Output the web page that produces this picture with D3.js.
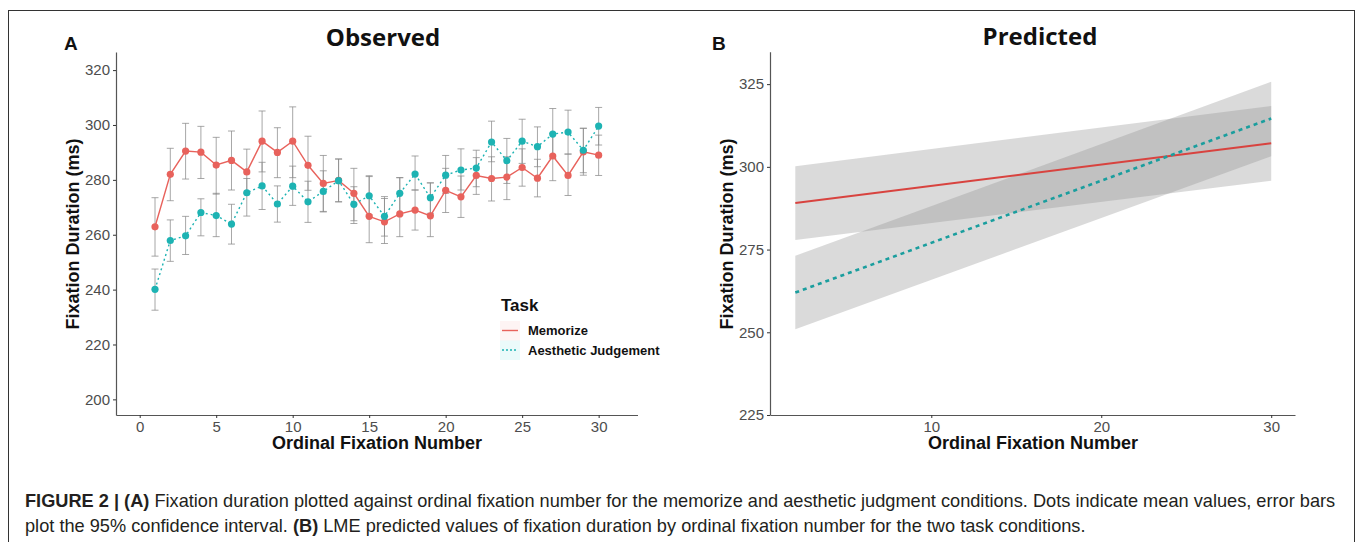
<!DOCTYPE html>
<html>
<head>
<meta charset="utf-8">
<script src="https://cdn.jsdelivr.net/npm/d3@7/dist/d3.min.js"></script>
<style>
  html, body { margin: 0; padding: 0; background: #fff; }
  svg { display: block; }
</style>
</head>
<body>
<svg id="chart" width="1357" height="542"></svg>
<script>
// ---------- Data ----------
const fixationNumber = [1,2,3,4,5,6,7,8,9,10,11,12,13,14,15,16,17,18,19,20,21,22,23,24,25,26,27,28,29,30];

const memorizeMean = [262.9,282.0,290.5,290.1,285.4,287.1,282.9,294.1,290.0,294.1,285.3,278.7,279.8,275.1,266.7,264.7,267.6,269.0,266.9,276.2,273.8,281.6,280.5,281.0,284.5,280.6,288.7,281.6,290.2,289.0];
const memorizeLow  = [252.2,272.4,280.3,280.5,274.8,276.3,275.1,282.9,280.8,280.8,276.2,268.3,272.0,265.1,257.1,256.8,259.3,261.7,259.3,268.1,266.3,274.7,272.3,272.8,277.7,273.8,279.7,274.3,281.7,281.6];
const memorizeHigh = [273.5,291.5,300.6,299.5,295.5,297.8,291.2,305.1,299.0,306.6,295.9,288.9,287.6,284.2,281.5,273.2,280.8,276.3,278.9,284.2,281.4,288.1,288.4,288.4,291.3,287.5,296.9,289.4,298.8,296.3];

const aestheticMean = [240.1,257.9,259.6,268.1,267.0,263.9,275.3,277.8,271.2,277.7,272.0,275.8,279.7,271.1,274.2,266.7,275.1,282.1,273.5,281.7,283.6,284.3,293.8,287.0,294.1,292.1,296.7,297.4,290.8,299.6];
const aestheticLow  = [232.5,250.3,252.8,259.6,259.3,256.6,266.8,269.2,264.6,270.7,264.5,268.5,272.0,264.1,267.2,259.5,267.2,276.3,267.8,275.1,276.3,277.5,286.6,278.7,286.0,284.8,287.8,289.4,282.6,292.7];
const aestheticHigh = [247.5,265.4,266.7,273.1,275.1,271.1,280.5,286.4,277.8,285.0,279.5,283.3,287.6,277.5,281.2,273.9,280.8,288.7,278.9,288.9,291.3,290.8,301.4,295.1,302.1,299.3,306.0,305.4,298.8,306.4];

// Predicted (LME) lines and 95% bands at the ends of the fitted range
const predX = [2, 30];
const memorizePred     = [289.1, 307.1];
const memorizePredLow  = [277.9, 295.8];
const memorizePredHigh = [300.2, 318.4];
const aestheticPred     = [262.0, 314.6];
const aestheticPredLow  = [250.9, 303.2];
const aestheticPredHigh = [273.1, 325.7];

const obsXTicks = [0,5,10,15,20,25,30];
const obsYTicks = [200,220,240,260,280,300,320];
const predXTicks = [10,20,30];
const predYTicks = [225,250,275,300,325];

const taskLabels = ["Memorize", "Aesthetic Judgement"];

// ---------- Styles ----------
const RED = "#e8625c";
const TEAL = "#1db3b3";
const RED_DARK = "#d8433f";
const TEAL_DARK = "#1a9e9e";
const AXIS = "#555";
const TICKTXT = "#4d4d4d";
const FONT = "'Liberation Sans', Arial, sans-serif";
const TITLEFONT = "'Open Sans', 'Liberation Sans', sans-serif";

const svg = d3.select("#chart");

// Outer frame
svg.append("rect").attr("x", 8.5).attr("y", 10.5).attr("width", 1346).attr("height", 600)
  .attr("fill", "none").attr("stroke", "#333").attr("stroke-width", 1);

function styleAxis(g) {
  g.select(".domain").attr("stroke", AXIS).attr("stroke-width", 1.2);
  g.selectAll(".tick line").attr("stroke", "#333").attr("stroke-width", 1);
  g.selectAll(".tick text").attr("fill", TICKTXT).style("font-family", FONT).style("font-size", "15px");
}

// ---------- Panel A: Observed ----------
const xA = d3.scaleLinear().domain([-1.55, 32.54]).range([116, 637.5]);
const yA = d3.scaleLinear().domain([194.3, 326.6]).range([415, 52]);

const gA = svg.append("g");

gA.append("g").attr("transform", `translate(0,${415})`)
  .call(d3.axisBottom(xA).tickValues(obsXTicks).tickSize(3).tickPadding(3).tickSizeOuter(0))
  .call(styleAxis);
gA.append("g").attr("transform", `translate(${116},0)`)
  .call(d3.axisLeft(yA).tickValues(obsYTicks).tickSize(3).tickPadding(3).tickSizeOuter(0))
  .call(styleAxis);

function errorBars(g, low, high) {
  const eb = g.append("g").attr("stroke", "#8a8a8a").attr("stroke-opacity", 0.75).attr("stroke-width", 1);
  fixationNumber.forEach((f, i) => {
    const x = xA(f);
    eb.append("line").attr("x1", x).attr("x2", x).attr("y1", yA(low[i])).attr("y2", yA(high[i]));
    eb.append("line").attr("x1", x - 3.5).attr("x2", x + 3.5).attr("y1", yA(low[i])).attr("y2", yA(low[i]));
    eb.append("line").attr("x1", x - 3.5).attr("x2", x + 3.5).attr("y1", yA(high[i])).attr("y2", yA(high[i]));
  });
}
errorBars(gA, memorizeLow, memorizeHigh);
errorBars(gA, aestheticLow, aestheticHigh);

const lineA = d3.line().x((d, i) => xA(fixationNumber[i])).y(d => yA(d));
gA.append("path").datum(memorizeMean).attr("d", lineA)
  .attr("fill", "none").attr("stroke", RED).attr("stroke-width", 1.4);
gA.append("path").datum(aestheticMean).attr("d", lineA)
  .attr("fill", "none").attr("stroke", TEAL).attr("stroke-width", 1.4).attr("stroke-dasharray", "2,3");

gA.append("g").selectAll("circle").data(memorizeMean).join("circle")
  .attr("cx", (d, i) => xA(fixationNumber[i])).attr("cy", d => yA(d)).attr("r", 3.6).attr("fill", RED);
gA.append("g").selectAll("circle").data(aestheticMean).join("circle")
  .attr("cx", (d, i) => xA(fixationNumber[i])).attr("cy", d => yA(d)).attr("r", 3.6).attr("fill", TEAL);

// Titles panel A
gA.append("text").attr("x", 383).attr("y", 46).attr("text-anchor", "middle")
  .style("font-family", TITLEFONT).style("font-weight", 700).style("font-size", "24px").attr("fill", "#111").text("Observed");
gA.append("text").attr("x", 64).attr("y", 50)
  .style("font-family", FONT).style("font-weight", 700).style("font-size", "19px").attr("fill", "#111").text("A");
gA.append("text").attr("transform", `translate(79,234) rotate(-90)`).attr("text-anchor", "middle")
  .style("font-family", FONT).style("font-weight", 700).style("font-size", "18px").attr("fill", "#111").text("Fixation Duration (ms)");
gA.append("text").attr("x", 377).attr("y", 449).attr("text-anchor", "middle")
  .style("font-family", FONT).style("font-weight", 700).style("font-size", "18px").attr("fill", "#111").text("Ordinal Fixation Number");

// Legend
const lg = gA.append("g");
lg.append("text").attr("x", 501).attr("y", 311)
  .style("font-family", FONT).style("font-weight", 700).style("font-size", "17px").attr("fill", "#111").text("Task");
const keyColors = [RED, TEAL];
const keyFills = ["rgba(248,118,109,0.08)", "rgba(0,191,196,0.08)"];
taskLabels.forEach((lab, i) => {
  const cy = 330.5 + i * 19.5;
  lg.append("rect").attr("x", 500).attr("y", cy - 9.5).attr("width", 20).attr("height", 19.5).attr("fill", keyFills[i]);
  lg.append("line").attr("x1", 502).attr("x2", 518).attr("y1", cy).attr("y2", cy)
    .attr("stroke", keyColors[i]).attr("stroke-width", 1.4).attr("stroke-dasharray", i === 1 ? "2,2" : null);
  lg.append("text").attr("x", 528).attr("y", cy + 4.5)
    .style("font-family", FONT).style("font-weight", 700).style("font-size", "13px").attr("fill", "#111").text(lab);
});

// ---------- Panel B: Predicted ----------
const xB = d3.scaleLinear().domain([0.51, 31.4]).range([770, 1295]);
const yB = d3.scaleLinear().domain([225, 334.8]).range([415, 51.7]);
const gB = svg.append("g");

const area = (low, high) => d3.area().x((d, i) => xB(predX[i])).y0((d, i) => yB(low[i])).y1((d, i) => yB(high[i]));
gB.append("path").datum(predX).attr("d", area(memorizePredLow, memorizePredHigh))
  .attr("fill", "#8f8f8f").attr("fill-opacity", 0.33);
gB.append("path").datum(predX).attr("d", area(aestheticPredLow, aestheticPredHigh))
  .attr("fill", "#8f8f8f").attr("fill-opacity", 0.33);

const lineB = d3.line().x((d, i) => xB(predX[i])).y(d => yB(d));
gB.append("path").datum(memorizePred).attr("d", lineB)
  .attr("fill", "none").attr("stroke", RED_DARK).attr("stroke-width", 2);
gB.append("path").datum(aestheticPred).attr("d", lineB)
  .attr("fill", "none").attr("stroke", TEAL_DARK).attr("stroke-width", 2.6).attr("stroke-dasharray", "4,4");

gB.append("g").attr("transform", `translate(0,${415})`)
  .call(d3.axisBottom(xB).tickValues(predXTicks).tickSize(3).tickPadding(3).tickSizeOuter(0))
  .call(styleAxis);
gB.append("g").attr("transform", `translate(${770},0)`)
  .call(d3.axisLeft(yB).tickValues(predYTicks).tickSize(3).tickPadding(3).tickSizeOuter(0))
  .call(styleAxis);

gB.append("text").attr("x", 1040).attr("y", 45).attr("text-anchor", "middle")
  .style("font-family", TITLEFONT).style("font-weight", 700).style("font-size", "24px").attr("fill", "#111").text("Predicted");
gB.append("text").attr("x", 712).attr("y", 50)
  .style("font-family", FONT).style("font-weight", 700).style("font-size", "19px").attr("fill", "#111").text("B");
gB.append("text").attr("transform", `translate(733,234) rotate(-90)`).attr("text-anchor", "middle")
  .style("font-family", FONT).style("font-weight", 700).style("font-size", "18px").attr("fill", "#111").text("Fixation Duration (ms)");
gB.append("text").attr("x", 1033).attr("y", 449).attr("text-anchor", "middle")
  .style("font-family", FONT).style("font-weight", 700).style("font-size", "18px").attr("fill", "#111").text("Ordinal Fixation Number");

// ---------- Caption ----------
const cap = svg.append("g").style("font-family", FONT).style("font-size", "18.2px").attr("fill", "#231f20");
const l1 = cap.append("text").attr("x", 25).attr("y", 507);
l1.append("tspan").style("font-weight", 700).text("FIGURE 2 | (A)");
l1.append("tspan").text(" Fixation duration plotted against ordinal fixation number for the memorize and aesthetic judgment conditions. Dots indicate mean values, error bars");
const l2 = cap.append("text").attr("x", 25).attr("y", 532);
l2.append("tspan").text("plot the 95% confidence interval. ");
l2.append("tspan").style("font-weight", 700).text("(B)");
l2.append("tspan").text(" LME predicted values of fixation duration by ordinal fixation number for the two task conditions.");
</script>
</body>
</html>
